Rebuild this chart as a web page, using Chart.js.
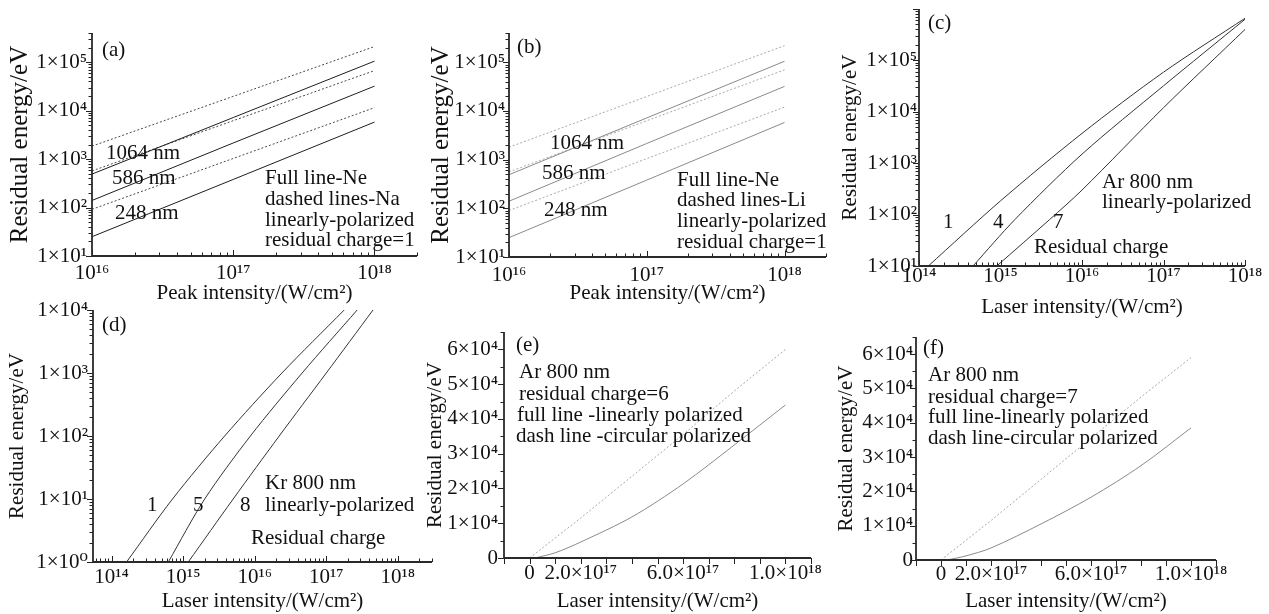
<!DOCTYPE html>
<html>
<head>
<meta charset="utf-8">
<script src="https://cdn.jsdelivr.net/npm/chart.js@4.4.1/dist/chart.umd.min.js"></script>
<style>
html, body { margin: 0; padding: 0; background: #fff; }
#fig { position: relative; width: 1269px; height: 614px; overflow: hidden; }
#fig canvas { position: absolute; }
</style>
</head>
<body>
<div id="fig"></div>
<script>
const FONT = "'Liberation Serif', 'DejaVu Serif', 'Times New Roman', serif";

// (a) Ne / Na and (b) Ne / Li, straight lines in log-log
const peakIntensity = [1e16, 1e17, 1e18];
const ne1064 = [490, 7200, 1.05e5];
const ne586 = [140, 2150, 3.2e4];
const ne248 = [25, 380, 5.8e3];
const na1064 = [1850, 19700, 2.1e5];
const na586 = [570, 6200, 6.7e4];
const na248 = [92, 1030, 1.15e4];
const li1064 = [1800, 19800, 2.2e5];
const li586 = [560, 6300, 7.0e4];
const li248 = [90, 1050, 1.2e4];

// (c) Ar 800 nm, residual charge 1 / 4 / 7
const arQ1x = [1.3e14, 1e15, 1e16, 1e17, 1e18];
const arQ1y = [10, 185, 3800, 5.9e4, 6.6e5];
const arQ4x = [4.6e14, 1.5e15, 1e16, 1e17, 1e18];
const arQ4y = [10, 80, 1500, 3.2e4, 6.3e5];
const arQ7x = [9e14, 4e15, 1e16, 1e17, 1e18];
const arQ7y = [10, 80, 300, 1.2e4, 4.0e5];

// (d) Kr 800 nm, residual charge 1 / 5 / 8
const krQ1x = [1.62e14, 7.1e14, 3.8e15, 2.4e16, 1.78e17];
const krQ5x = [6.2e14, 2.0e15, 8.7e15, 4.6e16, 2.7e17];
const krQ8x = [1.18e15, 5.0e15, 2.2e16, 1.0e17, 4.5e17];
const krEnergy = [1, 10, 100, 1000, 1e4];

// (e) Ar charge 6, (f) Ar charge 7 : linear vs circular polarization
const laserIntensity = [0, 2e17, 4e17, 6e17, 8e17, 1e18];
const ar6Circular = [0, 11500, 23500, 35500, 48000, 60000];
const ar7Circular = [0, 11500, 23500, 35500, 47500, 59000];
const linearIntensity6 = [2e16, 1e17, 2e17, 4e17, 6e17, 8e17, 1e18];
const ar6Linear = [0, 1500, 4600, 11800, 21300, 32500, 44000];
const linearIntensity7 = [2.4e16, 1e17, 2e17, 4e17, 6e17, 8e17, 1e18];
const ar7Linear = [0, 1200, 3500, 10500, 18300, 27500, 38500];

// x tick labels of the linear panels
const linTickValues = [0, 2e17, 6e17, 1e18];
const linTickLabels = ['0', '2.0×10¹⁷', '6.0×10¹⁷', '1.0×10¹⁸'];

Chart.defaults.font.family = FONT;
Chart.defaults.color = '#111';

const SUP = '⁰¹²³⁴⁵⁶⁷⁸⁹';
const sup = n => String(n).split('').map(c => SUP[+c]).join('');
const decade = v => {
    const e = Math.log10(v);
    const r = Math.round(e);
    return Math.abs(e - r) < 1e-6 ? r : null;
};

// minor ticks 1..9 for every decade in range
const logTicks = (min, max) => {
    const out = [];
    for (let e = Math.floor(Math.log10(min)); e <= Math.ceil(Math.log10(max)); e++) {
        for (let k = 1; k < 10; k++) {
            const v = k * Math.pow(10, e);
            if (v >= min * 0.9999 && v <= max * 1.0001) out.push({value: v});
        }
    }
    return out;
};

const series = (xs, ys, color, dash, tension) => ({
    data: xs.map((x, i) => ({x, y: ys[i]})),
    borderColor: color,
    borderWidth: 1,
    borderDash: dash || [],
    pointRadius: 0,
    fill: false,
    tension: tension || 0
});

// axis lines + tick marks
const axesPlugin = p => ({
    id: 'axes',
    afterDraw(chart) {
        const {ctx, chartArea: a, scales: {x, y}} = chart;
        ctx.save();
        ctx.strokeStyle = '#222';
        ctx.lineWidth = 1;
        x.ticks.forEach(t => {
            const px = Math.round(x.getPixelForValue(t.value)) + 0.5;
            if (px < a.left - 1 || px > a.right + 1) return;
            const major = p.xLog ? decade(t.value) !== null : true;
            const len = major ? 6 : 3.5;
            ctx.beginPath();
            ctx.moveTo(px, a.bottom);
            ctx.lineTo(px, a.bottom + (p.xOut ? len : -len));
            ctx.stroke();
        });
        y.ticks.forEach(t => {
            const py = Math.round(y.getPixelForValue(t.value)) + 0.5;
            if (py < a.top - 1 || py > a.bottom + 1) return;
            const major = p.yLog ? decade(t.value) !== null : Math.abs(t.value % 1e4) < 1;
            const len = major ? 6 : 3.5;
            ctx.beginPath();
            ctx.moveTo(a.left, py);
            ctx.lineTo(a.left - len, py);
            ctx.stroke();
        });
        ctx.lineWidth = 1.8;
        ctx.strokeStyle = '#2a2a2a';
        ctx.beginPath();
        ctx.moveTo(a.left, a.top);
        ctx.lineTo(a.left, a.bottom);
        ctx.lineTo(a.right, a.bottom);
        ctx.stroke();
        ctx.restore();
    }
});

// free text inside the plot
const notesPlugin = notes => ({
    id: 'notes',
    afterDatasetsDraw(chart) {
        const {ctx, chartArea: a} = chart;
        ctx.save();
        ctx.font = '21px ' + FONT;
        ctx.fillStyle = '#111';
        ctx.textAlign = 'left';
        ctx.textBaseline = 'middle';
        notes.forEach(n => ctx.fillText(n[0], a.left + n[1], a.top + n[2]));
        ctx.restore();
    }
});

const logLabelX = v => { const e = decade(v); return e === null ? '' : '10' + sup(e); };
const logLabelY = maxExp => v => {
    const e = decade(v);
    return e === null || e > maxExp ? '' : '1×10' + sup(e);
};
const linLabelX = v => {
    const i = linTickValues.findIndex(t => Math.abs(t - v) < 1e15);
    return i < 0 ? '' : linTickLabels[i];
};
const linLabelY = v => {
    if (Math.abs(v) < 1) return '0';
    const n = Math.round(v / 1e4);
    return Math.abs(v - n * 1e4) < 1 ? n + '×10⁴' : '';
};

const fig = document.getElementById('fig');

function makePanel(p) {
    const c = document.createElement('canvas');
    c.width = p.box.w;
    c.height = p.box.h;
    c.style.left = p.box.x + 'px';
    c.style.top = p.box.y + 'px';
    c.style.width = p.box.w + 'px';
    c.style.height = p.box.h + 'px';
    fig.appendChild(c);

    const yTitleSize = p.yTitleSize || 21;
    const yLh = yTitleSize * 1.2;
    const xLh = 21 * 1.2;

    new Chart(c, {
        type: 'line',
        data: {datasets: p.datasets},
        options: {
            responsive: false,
            animation: false,
            devicePixelRatio: 1,
            events: [],
            layout: {
                padding: {
                    left: 0, bottom: 0,
                    top: p.area.t - p.box.y,
                    right: p.box.x + p.box.w - p.area.r
                }
            },
            plugins: {legend: {display: false}, tooltip: {enabled: false}},
            scales: {
                x: {
                    type: p.xLog ? 'logarithmic' : 'linear',
                    min: p.xMin, max: p.xMax,
                    afterBuildTicks: p.xLog ? s => { s.ticks = logTicks(s.min, s.max); } : undefined,
                    afterFit: s => { s.height = p.box.y + p.box.h - p.area.b; },
                    grid: {display: false, drawTicks: false},
                    border: {display: false},
                    ticks: {
                        autoSkip: false, maxRotation: 0, minRotation: 0,
                        stepSize: p.xLog ? undefined : 1e17,
                        padding: p.xPad,
                        color: '#111',
                        font: {size: 21},
                        callback: p.xLog ? logLabelX : linLabelX
                    },
                    title: {
                        display: true, text: p.xTitle, color: '#111',
                        font: {size: 21},
                        padding: {top: p.box.y + p.box.h - p.xTitleY - xLh / 2, bottom: 0}
                    }
                },
                y: {
                    type: p.yLog ? 'logarithmic' : 'linear',
                    min: p.yMin, max: p.yMax,
                    afterBuildTicks: p.yLog ? s => { s.ticks = logTicks(s.min, s.max); } : undefined,
                    afterFit: s => { s.width = p.area.l - p.box.x; },
                    grid: {display: false, drawTicks: false},
                    border: {display: false},
                    ticks: {
                        autoSkip: false,
                        stepSize: p.yLog ? undefined : 5e3,
                        padding: p.yPad,
                        color: '#111',
                        font: {size: 21},
                        callback: p.yLog ? logLabelY(p.yLabelMax) : linLabelY
                    },
                    title: {
                        display: true, text: 'Residual energy/eV', color: '#111',
                        font: {size: yTitleSize},
                        padding: {top: p.yTitleX - p.box.x - yLh / 2, bottom: 0}
                    }
                }
            }
        },
        plugins: [axesPlugin(p), notesPlugin(p.notes)]
    });
}

const DARK = '#1e1e1e', DARKDASH = '#4a4a4a', GREY = '#8a8a8a', GREYDASH = '#a8a8a8';

// (a)
makePanel({
    box: {x: 0, y: 0, w: 422, h: 306},
    area: {l: 92, t: 33, r: 419, b: 256},
    xLog: true, yLog: true, xOut: false,
    xMin: 1e16, xMax: 2e18, yMin: 10, yMax: 4e5, yLabelMax: 5,
    xPad: 5, yPad: 5,
    xTitle: 'Peak intensity/(W/cm²)', xTitleY: 292,
    yTitleX: 20, yTitleSize: 25,
    datasets: [
        series(peakIntensity, na1064, DARKDASH, [2, 2]),
        series(peakIntensity, ne1064, DARK),
        series(peakIntensity, na586, DARKDASH, [2, 2]),
        series(peakIntensity, ne586, DARK),
        series(peakIntensity, na248, DARKDASH, [2, 2]),
        series(peakIntensity, ne248, DARK)
    ],
    notes: [
        ['(a)', 10, 17],
        ['1064 nm', 14, 120],
        ['586 nm', 20, 145],
        ['248 nm', 23, 180],
        ['Full line-Ne', 173, 145],
        ['dashed lines-Na', 173, 166],
        ['linearly-polarized', 173, 187],
        ['residual charge=1', 173, 207]
    ]
});

// (b)
makePanel({
    box: {x: 422, y: 0, w: 418, h: 306},
    area: {l: 509, t: 33, r: 826, b: 257},
    xLog: true, yLog: true, xOut: false,
    xMin: 1e16, xMax: 2e18, yMin: 10, yMax: 4e5, yLabelMax: 5,
    xPad: 6, yPad: 4,
    xTitle: 'Peak intensity/(W/cm²)', xTitleY: 292,
    yTitleX: 441, yTitleSize: 25,
    datasets: [
        series(peakIntensity, li1064, GREYDASH, [2, 2]),
        series(peakIntensity, ne1064, GREY),
        series(peakIntensity, li586, GREYDASH, [2, 2]),
        series(peakIntensity, ne586, GREY),
        series(peakIntensity, li248, GREYDASH, [2, 2]),
        series(peakIntensity, ne248, GREY)
    ],
    notes: [
        ['(b)', 8, 14],
        ['1064 nm', 41, 110],
        ['586 nm', 33, 140],
        ['248 nm', 35, 177],
        ['Full line-Ne', 168, 147],
        ['dashed lines-Li', 168, 167],
        ['linearly-polarized', 168, 188],
        ['residual charge=1', 168, 209]
    ]
});

// (c)
makePanel({
    box: {x: 836, y: -6, w: 433, h: 326},
    area: {l: 919, t: 9, r: 1245, b: 266},
    xLog: true, yLog: true, xOut: false,
    xMin: 1e14, xMax: 1e18, yMin: 10, yMax: 1e6, yLabelMax: 5,
    xPad: -2, yPad: 2,
    xTitle: 'Laser intensity/(W/cm²)', xTitleY: 306,
    yTitleX: 850,
    datasets: [
        series(arQ1x, arQ1y, '#333', null, 0.3),
        series(arQ4x, arQ4y, '#333', null, 0.3),
        series(arQ7x, arQ7y, '#333', null, 0.3)
    ],
    notes: [
        ['(c)', 9, 14],
        ['Ar 800 nm', 183, 173],
        ['linearly-polarized', 183, 193],
        ['1', 24, 213],
        ['4', 74, 213],
        ['7', 134, 213],
        ['Residual charge', 115, 238]
    ]
});

// (d)
makePanel({
    box: {x: 0, y: 290, w: 440, h: 324},
    area: {l: 93, t: 310, r: 432, b: 562},
    xLog: true, yLog: true, xOut: false,
    xMin: 5.5e13, xMax: 3e18, yMin: 1, yMax: 1e4, yLabelMax: 4,
    xPad: 3, yPad: 5,
    xTitle: 'Laser intensity/(W/cm²)', xTitleY: 598,
    yTitleX: 17,
    datasets: [
        series(krQ1x, krEnergy, '#333', null, 0.3),
        series(krQ5x, krEnergy, '#333', null, 0.3),
        series(krQ8x, krEnergy, '#333', null, 0.3)
    ],
    notes: [
        ['(d)', 9, 15],
        ['Kr 800 nm', 172, 173],
        ['linearly-polarized', 172, 195],
        ['1', 54, 195],
        ['5', 100, 195],
        ['8', 147, 195],
        ['Residual charge', 158, 228]
    ]
});

// (e)
makePanel({
    box: {x: 420, y: 312, w: 420, h: 302},
    area: {l: 504, t: 332, r: 811, b: 558},
    xLog: false, yLog: false, xOut: true,
    xMin: -1e17, xMax: 1.1e18, yMin: 0, yMax: 6.5e4,
    xPad: 3, yPad: 6,
    xTitle: 'Laser intensity/(W/cm²)', xTitleY: 594,
    yTitleX: 435,
    datasets: [
        series(laserIntensity, ar6Circular, GREYDASH, [2, 2]),
        series(linearIntensity6, ar6Linear, GREY, null, 0.3)
    ],
    notes: [
        ['(e)', 12, 13],
        ['Ar 800 nm', 15, 40],
        ['residual charge=6', 15, 62],
        ['full line -linearly polarized', 13, 83],
        ['dash line -circular polarized', 12, 104]
    ]
});

// (f)
makePanel({
    box: {x: 830, y: 312, w: 439, h: 302},
    area: {l: 916, t: 337, r: 1216, b: 560},
    xLog: false, yLog: false, xOut: true,
    xMin: -1e17, xMax: 1.1e18, yMin: 0, yMax: 6.5e4,
    xPad: 2, yPad: 3,
    xTitle: 'Laser intensity/(W/cm²)', xTitleY: 597,
    yTitleX: 846,
    datasets: [
        series(laserIntensity, ar7Circular, GREYDASH, [2, 2]),
        series(linearIntensity7, ar7Linear, GREY, null, 0.3)
    ],
    notes: [
        ['(f)', 7, 11],
        ['Ar 800 nm', 12, 38],
        ['residual charge=7', 12, 60],
        ['full line-linearly polarized', 12, 80],
        ['dash line-circular polarized', 12, 101]
    ]
});
</script>
</body>
</html>
